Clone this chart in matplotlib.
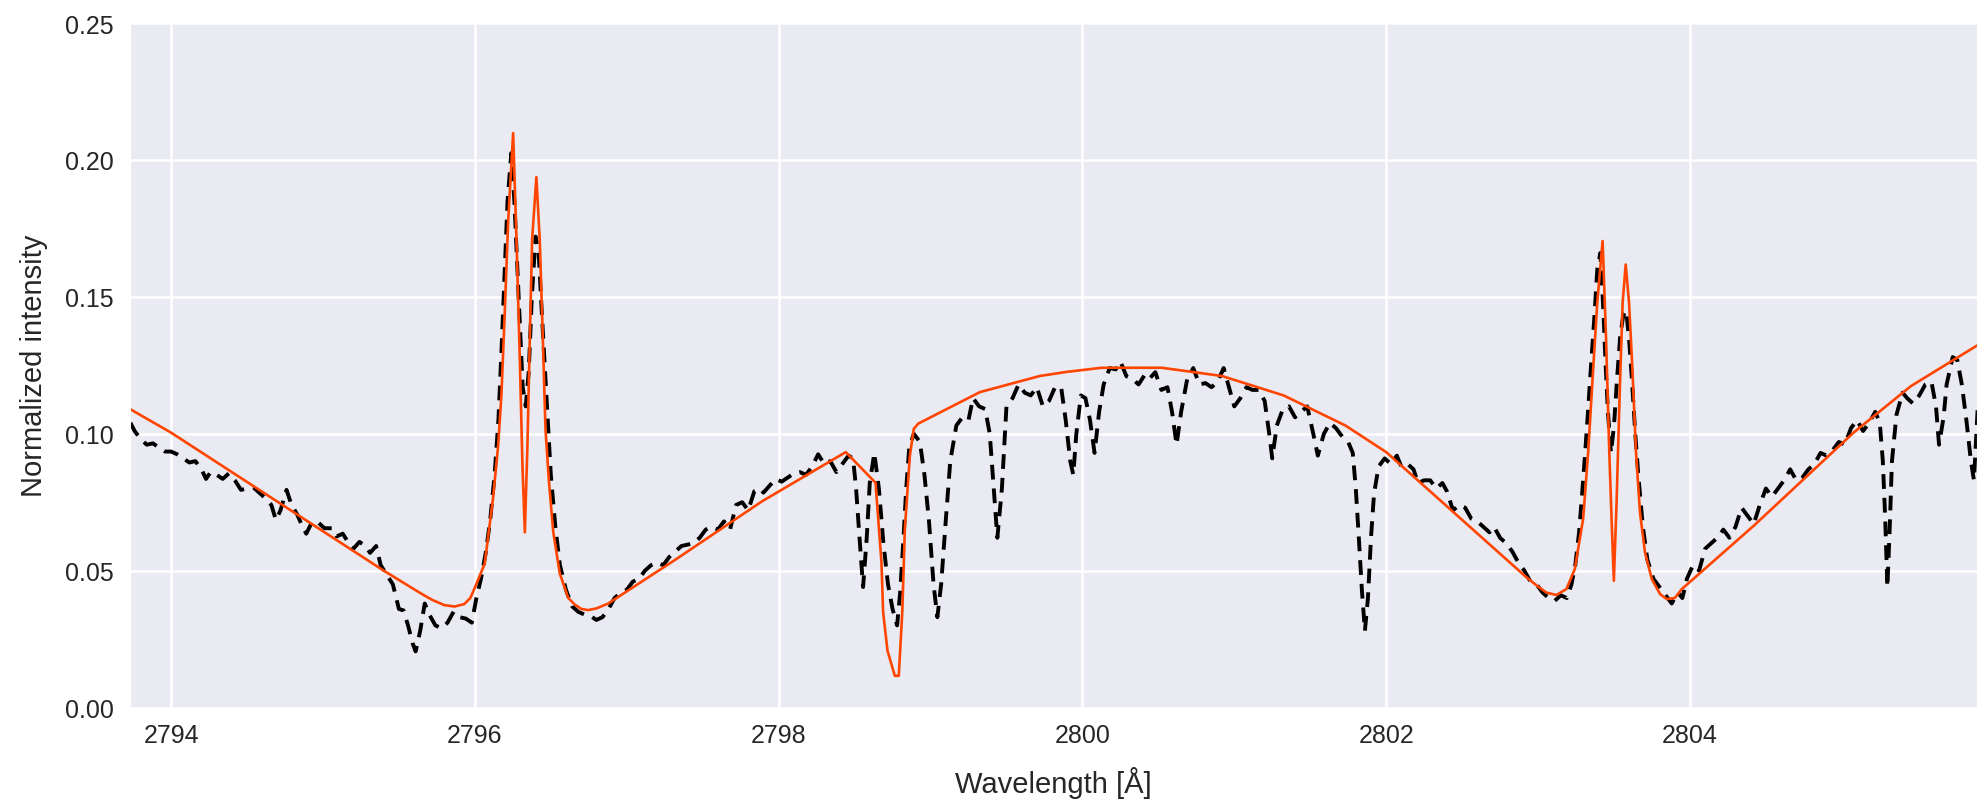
import matplotlib
matplotlib.use('Agg')
import matplotlib.pyplot as plt
import seaborn as sns

# observed spectrum (dashed black)
OBS_WAVE = [
    2793.732, 2793.76, 2793.80, 2793.84, 2793.88, 2793.92, 2793.96, 2794.00, 2794.04, 2794.08,
    2794.12, 2794.16, 2794.20, 2794.23, 2794.26, 2794.30, 2794.34, 2794.38, 2794.42, 2794.46,
    2794.50, 2794.54, 2794.58, 2794.62, 2794.66, 2794.69, 2794.72, 2794.76, 2794.79, 2794.83,
    2794.87, 2794.89, 2794.93, 2794.97, 2795.01, 2795.06, 2795.09, 2795.13, 2795.17, 2795.20,
    2795.24, 2795.28, 2795.31, 2795.35, 2795.38, 2795.42, 2795.46, 2795.50, 2795.53, 2795.56,
    2795.59, 2795.61, 2795.64, 2795.67, 2795.70, 2795.74, 2795.78, 2795.82, 2795.86, 2795.90,
    2795.94, 2795.98, 2796.01, 2796.04, 2796.07, 2796.10, 2796.13, 2796.155, 2796.175, 2796.195,
    2796.215, 2796.24, 2796.26, 2796.28, 2796.30, 2796.315, 2796.335, 2796.355, 2796.375, 2796.40,
    2796.42, 2796.44, 2796.46, 2796.48, 2796.50, 2796.53, 2796.56, 2796.60, 2796.64, 2796.68,
    2796.72, 2796.76, 2796.80, 2796.84, 2796.88, 2796.92, 2796.96, 2797.00, 2797.04, 2797.08,
    2797.12, 2797.16, 2797.20, 2797.24, 2797.28, 2797.32, 2797.36, 2797.40, 2797.44, 2797.48,
    2797.52, 2797.56, 2797.60, 2797.64, 2797.68, 2797.72, 2797.76, 2797.80, 2797.84, 2797.88,
    2797.90, 2797.94, 2797.98, 2798.02, 2798.06, 2798.10, 2798.14, 2798.18, 2798.22, 2798.26,
    2798.30, 2798.34, 2798.38, 2798.42, 2798.46, 2798.49, 2798.51, 2798.53, 2798.556, 2798.58,
    2798.60, 2798.63, 2798.66, 2798.69, 2798.72, 2798.75, 2798.78, 2798.80, 2798.82, 2798.84,
    2798.86, 2798.89, 2798.93, 2798.96, 2798.99, 2799.02, 2799.045, 2799.07, 2799.10, 2799.13,
    2799.17, 2799.21, 2799.25, 2799.28, 2799.32, 2799.36, 2799.39, 2799.41, 2799.44, 2799.47,
    2799.50, 2799.54, 2799.58, 2799.62, 2799.66, 2799.70, 2799.74, 2799.78, 2799.82, 2799.86,
    2799.89, 2799.92, 2799.94, 2799.96, 2799.99, 2800.02, 2800.05, 2800.08, 2800.11, 2800.14,
    2800.18, 2800.22, 2800.25, 2800.29, 2800.33, 2800.37, 2800.41, 2800.44, 2800.48, 2800.52,
    2800.56, 2800.59, 2800.62, 2800.65, 2800.69, 2800.73, 2800.77, 2800.81, 2800.85, 2800.89,
    2800.93, 2800.97, 2801.00, 2801.04, 2801.08, 2801.12, 2801.16, 2801.20, 2801.23, 2801.25,
    2801.28, 2801.32, 2801.36, 2801.40, 2801.44, 2801.48, 2801.52, 2801.55, 2801.59, 2801.63,
    2801.67, 2801.71, 2801.75, 2801.78, 2801.80, 2801.82, 2801.84, 2801.86, 2801.88, 2801.90,
    2801.92, 2801.95, 2801.99, 2802.03, 2802.07, 2802.10, 2802.14, 2802.18, 2802.21, 2802.25,
    2802.29, 2802.33, 2802.37, 2802.40, 2802.44, 2802.48, 2802.52, 2802.56, 2802.60, 2802.64,
    2802.68, 2802.71, 2802.75, 2802.79, 2802.83, 2802.87, 2802.91, 2802.95, 2802.99, 2803.03,
    2803.07, 2803.11, 2803.15, 2803.19, 2803.22, 2803.245, 2803.27, 2803.29, 2803.31, 2803.33,
    2803.35, 2803.37, 2803.39, 2803.41, 2803.43, 2803.445, 2803.46, 2803.48, 2803.50, 2803.52,
    2803.54, 2803.56, 2803.58, 2803.60, 2803.62, 2803.64, 2803.66, 2803.69, 2803.72, 2803.76,
    2803.80, 2803.84, 2803.88, 2803.92, 2803.95, 2803.98, 2804.02, 2804.06, 2804.10, 2804.14,
    2804.18, 2804.22, 2804.26, 2804.30, 2804.34, 2804.38, 2804.42, 2804.46, 2804.50, 2804.54,
    2804.58, 2804.62, 2804.66, 2804.70, 2804.74, 2804.78, 2804.82, 2804.86, 2804.90, 2804.94,
    2804.98, 2805.02, 2805.06, 2805.10, 2805.14, 2805.18, 2805.22, 2805.25, 2805.27, 2805.285,
    2805.30, 2805.315, 2805.33, 2805.36, 2805.40, 2805.43, 2805.47, 2805.51, 2805.55, 2805.59,
    2805.62, 2805.64, 2805.67, 2805.69, 2805.73, 2805.76, 2805.79, 2805.82, 2805.85, 2805.87,
    2805.89, 2805.91,
]
OBS_FLUX = [
    0.104, 0.101, 0.098, 0.096, 0.0965, 0.095, 0.0935, 0.0935, 0.0925, 0.091,
    0.0895, 0.090, 0.087, 0.0835, 0.086, 0.085, 0.0835, 0.0855, 0.083, 0.0795,
    0.080, 0.0805, 0.0785, 0.0765, 0.074, 0.0685, 0.072, 0.0795, 0.0745, 0.0705,
    0.0655, 0.0635, 0.068, 0.0675, 0.0655, 0.0655, 0.0625, 0.0635, 0.060, 0.058,
    0.0605, 0.059, 0.0565, 0.059, 0.052, 0.0485, 0.045, 0.036, 0.0355, 0.030,
    0.0235, 0.0205, 0.028, 0.038, 0.034, 0.030, 0.029, 0.031, 0.035, 0.033,
    0.0325, 0.031, 0.040, 0.047, 0.056, 0.068, 0.085, 0.105, 0.130, 0.158,
    0.185, 0.2025, 0.185, 0.160, 0.135, 0.117, 0.110, 0.123, 0.150, 0.172,
    0.166, 0.145, 0.125, 0.105, 0.085, 0.066, 0.052, 0.043, 0.037, 0.035,
    0.034, 0.0335, 0.032, 0.033, 0.036, 0.040, 0.042, 0.043, 0.046, 0.047,
    0.050, 0.052, 0.053, 0.052, 0.055, 0.057, 0.059, 0.0595, 0.060, 0.062,
    0.065, 0.066, 0.065, 0.068, 0.065, 0.074, 0.075, 0.072, 0.079, 0.080,
    0.0785, 0.081, 0.0835, 0.0825, 0.084, 0.0855, 0.086, 0.085, 0.088, 0.0925,
    0.089, 0.090, 0.086, 0.089, 0.092, 0.091, 0.080, 0.064, 0.044, 0.062,
    0.082, 0.093, 0.080, 0.060, 0.045, 0.036, 0.030, 0.042, 0.060, 0.080,
    0.095, 0.100, 0.097, 0.085, 0.068, 0.045, 0.033, 0.045, 0.068, 0.090,
    0.103, 0.106, 0.105, 0.113, 0.110, 0.109, 0.100, 0.085, 0.062, 0.080,
    0.110, 0.113, 0.118, 0.115, 0.114, 0.117, 0.110, 0.112, 0.117, 0.117,
    0.105, 0.090, 0.085, 0.100, 0.114, 0.113, 0.105, 0.093, 0.108, 0.118,
    0.124, 0.1235, 0.1264, 0.121, 0.120, 0.118, 0.1215, 0.120, 0.1225, 0.116,
    0.117, 0.108, 0.096, 0.108, 0.120, 0.124, 0.118, 0.1185, 0.117, 0.119,
    0.124, 0.116, 0.110, 0.113, 0.117, 0.116, 0.116, 0.112, 0.100, 0.091,
    0.103, 0.109, 0.110, 0.106, 0.108, 0.110, 0.100, 0.092, 0.100, 0.104,
    0.102, 0.099, 0.097, 0.093, 0.080, 0.062, 0.043, 0.028, 0.040, 0.062,
    0.078, 0.088, 0.091, 0.089, 0.092, 0.088, 0.089, 0.087, 0.082, 0.083,
    0.083, 0.080, 0.082, 0.079, 0.072, 0.074, 0.073, 0.069, 0.068, 0.066,
    0.064, 0.066, 0.062, 0.060, 0.057, 0.053, 0.050, 0.046, 0.045, 0.042,
    0.040, 0.039, 0.041, 0.040, 0.045, 0.052, 0.064, 0.078, 0.093, 0.109,
    0.126, 0.142, 0.160, 0.166, 0.145, 0.125, 0.108, 0.093, 0.103, 0.120,
    0.135, 0.143, 0.145, 0.134, 0.118, 0.100, 0.085, 0.066, 0.054, 0.047,
    0.044, 0.041, 0.038, 0.042, 0.040, 0.047, 0.052, 0.050, 0.058, 0.060,
    0.062, 0.065, 0.062, 0.066, 0.073, 0.070, 0.067, 0.074, 0.080, 0.077,
    0.080, 0.083, 0.087, 0.083, 0.084, 0.087, 0.089, 0.093, 0.092, 0.094,
    0.097, 0.096, 0.102, 0.105, 0.101, 0.104, 0.108, 0.104, 0.090, 0.070,
    0.044, 0.065, 0.090, 0.107, 0.115, 0.113, 0.111, 0.114, 0.118, 0.119,
    0.110, 0.096, 0.106, 0.118, 0.128, 0.127, 0.118, 0.105, 0.090, 0.083,
    0.105, 0.125,
]

# model fit (solid orange-red)
MODEL_WAVE = [
    2793.73, 2794.00, 2795.40, 2795.65, 2795.72, 2795.80, 2795.867, 2795.93, 2795.97, 2796.00,
    2796.065, 2796.12, 2796.153, 2796.175, 2796.197, 2796.219, 2796.252, 2796.274, 2796.296, 2796.313,
    2796.329, 2796.346, 2796.361, 2796.377, 2796.405, 2796.427, 2796.445, 2796.465, 2796.487, 2796.516,
    2796.559, 2796.615, 2796.66, 2796.702, 2796.746, 2796.80, 2796.878, 2797.01, 2797.32, 2797.89,
    2798.442, 2798.638, 2798.677, 2798.688, 2798.717, 2798.765, 2798.791, 2798.814, 2798.831, 2798.864,
    2798.89, 2798.919, 2799.325, 2799.72, 2799.897, 2800.127, 2800.523, 2800.918, 2801.325, 2801.732,
    2802.0, 2802.923, 2803.00, 2803.055, 2803.121, 2803.187, 2803.242, 2803.297, 2803.33, 2803.363,
    2803.39, 2803.425, 2803.447, 2803.469, 2803.484, 2803.499, 2803.517, 2803.539, 2803.557, 2803.577,
    2803.599, 2803.621, 2803.645, 2803.671, 2803.704, 2803.749, 2803.804, 2803.848, 2803.90, 2803.947,
    2804.422, 2805.081, 2805.455, 2805.91,
]
MODEL_FLUX = [
    0.109, 0.1004, 0.050, 0.0415, 0.0393, 0.0374, 0.0369, 0.0378, 0.040, 0.0438,
    0.0526, 0.0766, 0.0955, 0.1144, 0.1446, 0.1773, 0.2098, 0.171, 0.127, 0.089,
    0.064, 0.0955, 0.133, 0.171, 0.1937, 0.171, 0.1395, 0.1017, 0.0831, 0.0642,
    0.049, 0.040, 0.0375, 0.036, 0.0356, 0.0362, 0.038, 0.0428, 0.054, 0.0753,
    0.0933, 0.0821, 0.053, 0.0348, 0.0207, 0.0116, 0.0116, 0.0348, 0.0652, 0.092,
    0.1018, 0.1037, 0.1152, 0.1211, 0.1226, 0.1241, 0.1241, 0.1211, 0.114, 0.103,
    0.0933, 0.0476, 0.0442, 0.042, 0.0411, 0.0433, 0.0506, 0.069, 0.0933, 0.1238,
    0.148, 0.1704, 0.136, 0.0933, 0.069, 0.0463, 0.075, 0.1177, 0.148, 0.1618,
    0.148, 0.1238, 0.0933, 0.0713, 0.0567, 0.0469, 0.0414, 0.0396, 0.040, 0.0433,
    0.0665, 0.1006, 0.1174, 0.1329,
]

XTICKS = [2794, 2796, 2798, 2800, 2802, 2804]
YTICKS = [0.00, 0.05, 0.10, 0.15, 0.20, 0.25]

sns.set_style('darkgrid')
plt.rcParams['font.family'] = ['Liberation Sans', 'DejaVu Sans']
plt.rcParams['text.color'] = '#262626'
plt.rcParams['axes.labelcolor'] = '#262626'
plt.rcParams['xtick.color'] = '#262626'
plt.rcParams['ytick.color'] = '#262626'

fig = plt.figure(figsize=(19.77, 8.04), dpi=100)
ax = fig.add_axes([0.0658, 0.1187, 0.9342, 0.8514])

ax.plot(OBS_WAVE, OBS_FLUX, color='black', linestyle='--', dashes=(3.8, 2.3), linewidth=2.8)
ax.plot(MODEL_WAVE, MODEL_FLUX, color='orangered', linewidth=1.9)

ax.set_xlim(2793.73, 2805.89)
ax.set_ylim(0, 0.25)
ax.set_xticks(XTICKS)
ax.set_yticks(YTICKS)
ax.tick_params(axis='x', labelsize=18, pad=11, length=0)
ax.tick_params(axis='y', labelsize=18, pad=12, length=0)
ax.grid(color='white', linewidth=1.8)
ax.set_xlabel('Wavelength [Å]', fontsize=21, labelpad=14)
ax.set_ylabel('Normalized intensity', fontsize=21, labelpad=12)

fig.savefig('out.png', dpi=100)
